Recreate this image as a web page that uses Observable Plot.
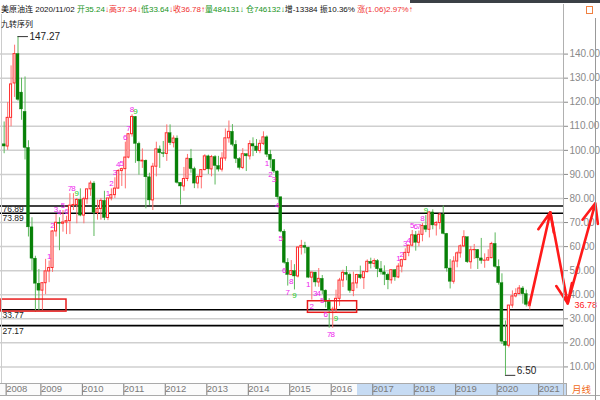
<!DOCTYPE html>
<html><head><meta charset="utf-8">
<script src="https://cdn.jsdelivr.net/npm/d3@7"></script>
<script src="https://cdn.jsdelivr.net/npm/@observablehq/plot@0.6"></script>
<style>
body{margin:0;background:#fff;}
#wrap{position:relative;width:600px;height:400px;overflow:hidden;background:#fff;}
#chart{position:absolute;left:0;top:0;}
#topbar{position:absolute;left:410px;top:0;width:190px;height:3px;background:#3b4046;}
#hdr{position:absolute;left:1px;top:4px;font-family:"Liberation Sans","Noto Sans CJK SC",sans-serif;font-size:8px;line-height:12px;white-space:nowrap;color:#111;}
#sub{position:absolute;left:1px;top:18px;font-family:"Noto Sans CJK SC",sans-serif;font-size:8px;line-height:12px;color:#111;}
.g{color:#16941a}.r{color:#f03030}
</style></head>
<body>
<div id="wrap">
<div id="chart"></div>
<div id="topbar"></div>
<div id="hdr"></div>
<div id="sub">九转序列</div>
</div>
<script>
// ---- data: monthly candles of 美原油连, Mar 2008 .. Nov 2020 ----
const firstMonth = "2008-03-01";
const lastMonthExclusive = "2020-12-01";
const open = [
 102.5,101.6,113.5,127.8,140.0,124.0,116.0,101.0,68.0,55.0,
 44.6,41.7,44.8,49.7,51.1,66.3,69.9,69.5,70.0,70.6,77.0,77.3,
 79.4,72.9,79.7,83.8,86.2,74.0,75.6,79.0,71.9,80.0,81.4,84.1,
 91.4,92.2,97.0,106.7,113.9,102.7,95.4,95.7,88.8,79.2,93.2,100.4,
 98.8,98.5,107.1,103.0,104.9,86.5,85.0,88.1,96.5,92.2,86.2,88.9,
 91.8,97.5,92.1,97.2,93.5,92.0,96.6,105.0,107.7,102.3,96.4,92.7,
 98.4,97.5,102.6,101.6,99.7,102.7,105.4,98.2,96.0,91.2,80.5,66.2,
 53.3,48.2,49.8,47.6,59.6,60.3,59.5,47.1,49.2,45.1,46.6,41.7,
 37.0,33.6,33.8,38.3,45.9,49.1,48.3,41.6,44.7,48.2,46.9,49.4,
 53.7,52.8,54.0,50.6,49.3,48.3,46.0,50.2,47.2,51.7,54.4,57.4,
 60.4,64.7,61.6,64.9,68.6,67.0,74.2,68.8,69.8,73.3,65.3,50.9,
 45.4,53.8,57.2,60.1,63.9,53.5,58.5,58.6,55.1,54.1,54.2,55.2,
 61.1,51.6,44.8,20.5,18.8,35.5,39.3,40.3,42.6,40.2,35.24
];
const high = [
 111.8,119.9,135.1,143.7,147.27,130.0,130.5,104.0,72.0,56.0,
 50.5,45.0,54.7,54.0,66.6,73.4,72.0,75.0,72.6,82.0,82.0,80.0,
 84.0,80.5,83.2,87.2,87.0,79.3,80.0,83.0,80.0,84.0,88.6,92.0,
 92.6,103.4,107.0,114.8,114.0,103.4,100.6,96.0,90.5,94.6,103.4,101.8,
 103.7,110.6,110.6,106.0,106.0,86.6,92.9,98.3,100.4,93.0,89.5,91.0,
 98.2,98.0,97.9,97.8,97.5,99.0,108.9,112.2,110.7,104.0,97.0,100.7,
 98.5,104.0,105.2,104.5,104.2,107.7,106.0,100.0,96.0,91.5,80.5,67.0,
 55.0,54.2,52.5,59.9,62.6,61.8,59.7,49.3,49.3,50.9,48.0,42.0,
 38.4,34.8,41.9,46.8,50.2,51.7,49.0,49.4,48.5,51.9,49.2,54.5,
 55.2,54.9,54.6,53.8,52.0,49.0,50.4,50.3,52.9,54.8,59.1,60.5,
 66.7,66.3,66.5,69.6,72.9,74.5,75.3,70.4,73.9,76.89,65.5,54.6,
 55.8,57.8,60.7,66.6,63.9,60.0,60.9,58.8,63.4,57.0,58.7,61.8,
 65.7,54.5,48.7,29.1,35.6,41.6,42.5,43.8,43.4,41.9,37.34
];
const low = [
 98.6,100.0,109.8,122.0,120.4,112.5,96.0,64.0,50.0,32.7,
 33.2,33.6,40.0,45.0,49.3,64.0,58.3,66.0,65.0,65.0,75.0,69.5,
 72.4,69.5,77.6,80.9,64.2,71.0,71.0,70.8,70.8,79.0,80.0,84.0,
 85.0,84.0,96.5,105.5,94.6,89.7,92.5,75.7,77.1,75.0,89.0,92.5,
 97.0,95.4,102.0,101.0,86.0,77.3,83.0,87.0,90.5,84.1,84.0,84.0,
 91.5,90.0,89.0,85.6,91.0,91.0,95.5,103.0,101.5,94.5,91.8,92.0,
 91.2,96.0,97.4,98.7,98.6,102.0,97.0,92.5,90.4,79.4,65.7,52.7,
 43.6,47.9,42.0,47.0,56.5,57.0,46.7,37.8,43.2,43.1,40.0,34.5,
 26.1,26.1,32.6,35.2,43.0,45.8,40.6,39.2,42.5,46.3,42.2,49.1,
 50.7,51.2,47.1,48.2,43.8,42.1,44.4,45.6,46.7,49.1,54.2,55.8,
 59.9,58.1,59.9,62.0,65.8,63.6,67.0,64.4,67.0,64.9,49.4,42.4,
 44.4,51.2,55.2,59.6,53.0,50.6,54.7,50.5,52.7,51.0,54.0,55.0,
 51.0,44.0,19.3,6.5,17.9,34.4,38.7,40.0,36.1,34.9,33.64
];
const close = [
 101.6,113.5,127.4,140.0,121.0,117.0,101.0,68.0,55.0,44.6,
 41.7,44.8,49.7,51.1,66.3,69.9,69.5,70.0,70.6,77.0,77.3,79.4,
 72.9,79.7,83.8,86.2,74.0,75.6,79.0,71.9,80.0,81.4,84.1,91.4,
 92.2,97.0,106.7,113.9,102.7,95.4,95.7,88.8,79.2,93.2,100.4,98.8,
 98.5,107.1,103.0,104.9,86.5,85.0,88.1,96.5,92.2,86.2,88.9,91.8,
 97.5,92.1,97.2,93.5,92.0,96.6,105.0,107.7,102.3,96.4,92.7,98.4,
 97.5,102.6,101.6,99.7,102.7,105.4,98.2,96.0,91.2,80.5,66.2,53.3,
 48.2,49.8,47.6,59.6,60.3,59.5,47.1,49.2,45.1,46.6,41.7,37.0,
 33.6,33.8,38.3,45.9,49.1,48.3,41.6,44.7,48.2,46.9,49.4,53.7,
 52.8,54.0,50.6,49.3,48.3,46.0,50.2,47.2,51.7,54.4,57.4,60.4,
 64.7,61.6,64.9,68.6,67.0,74.2,68.8,69.8,73.3,65.3,50.9,45.4,
 53.8,57.2,60.1,63.9,53.5,58.5,58.6,55.1,54.1,54.2,55.2,61.1,
 51.6,44.8,20.5,18.8,35.5,39.3,40.3,42.6,40.2,35.8,36.78
];
// axis ticks
const yearTicks = ["2008-03-01","2009-01-01","2010-01-01","2011-01-01","2012-01-01","2013-01-01","2014-01-01","2015-01-01","2016-01-01","2017-01-01","2018-01-01","2019-01-01","2020-01-01","2021-01-01"];
const priceTicks = [10,20,30,40,50,60,70,80,90,100,110,120,130,140];
// horizontal support/resistance levels
const levels = [76.89, 73.89, 33.77, 27.17];
// red boxes
const boxStart = ["2008-02-06","2015-06-28"];
const boxEnd   = ["2009-09-01","2016-09-03"];
const boxLow   = [33.0, 32.5];
const boxHigh  = [38.0, 37.3];
// hand-drawn forecast arrows
const arrowDates  = ["2020-11-01","2021-05-01","2021-10-01","2022-06-01"];
const arrowValues = [36.3, 74.3, 36.4, 78.0];
// extreme labels
const extremes = [{date:"2008-07-01", value:147.27, label:"147.27"},{date:"2020-04-01", value:6.50, label:"6.50"}];
const lastPrice = 36.78;

// ---- header ----
document.getElementById("hdr").innerHTML =
 '美原油连 2020/11/02 <span class="g">开35.24</span><span class="r">↓</span><span class="r">高37.34↓</span><span class="g">低33.64</span><span class="r">↓</span><span class="r">收36.78↑</span><span class="g">量484131↓</span> <span class="g">仓746132↓</span>增-13384 振10.36% <span class="r">涨(1.06)2.97%↑</span>';

// ---- table ----
const P = d => new Date(d + "T00:00:00Z");
const dates = d3.utcMonth.range(P(firstMonth), P(lastMonthExclusive));
const rows = dates.map((d, i) => ({date: d, open: open[i], high: high[i], low: low[i], close: close[i]}));
const up = rows.filter(d => d.close >= d.open);
const down = rows.filter(d => d.close < d.open);

// TD "九转" setup (close vs close 4 bars earlier), only completed 9-counts shown
const td = [];
{
  let s = [], b = [];
  for (let i = 4; i < close.length; i++) {
    if (close[i] > close[i - 4]) s.push(i); else s = [];
    if (close[i] < close[i - 4]) b.push(i); else b = [];
    if (s.length === 9) { s.forEach((k, j) => td.push({i: k, n: j + 1, dir: "sell"})); s = []; }
    if (b.length === 9) { b.forEach((k, j) => td.push({i: k, n: j + 1, dir: "buy"})); b = []; }
  }
}
const tdRow = t => ({date: dates[t.i], y: t.dir === "sell" ? high[t.i] : low[t.i], n: t.n});
const tdSell = td.filter(t => t.dir === "sell").map(tdRow);
const tdBuy = td.filter(t => t.dir === "buy").map(tdRow);

const boxes = boxStart.map((s, i) => ({x1: P(s), x2: P(boxEnd[i]), y1: boxLow[i], y2: boxHigh[i]}));
const arrows = arrowDates.slice(1).map((d, i) => ({x1: P(arrowDates[i]), y1: arrowValues[i], x2: P(d), y2: arrowValues[i + 1]}));
const ext = extremes.map(e => ({x1: P(e.date), x2: d3.utcMonth.offset(P(e.date), 3), y: e.value, label: e.label}));

const RED = "#ff2a2a", GREEN = "#078007";
const NARROW = '"Liberation Sans Narrow","Liberation Sans",Arial,sans-serif';
const half = 10; // days on each side of month start for body

const chart = Plot.plot({
  width: 600, height: 400,
  marginLeft: 0, marginRight: 37, marginTop: 5, marginBottom: 17,
  style: {background: "#fff", fontFamily: NARROW},
  x: {type: "utc", domain: [P("2009-01-01"), P("2021-01-01")], range: [38.4, 536.2], axis: null},
  y: {domain: [0, 140], range: [390.5, 53.6], axis: null},
  marks: [
    Plot.gridY(priceTicks, {stroke: "#cfcfcf", strokeOpacity: 1, strokeWidth: 1.5}),
    Plot.axisY(priceTicks, {anchor: "right", tickFormat: d => d.toFixed(2), tickSize: 4, tickPadding: 2, fontSize: 10, color: "#8a8a8a"}),
    Plot.axisX(yearTicks.map(P), {anchor: "bottom", tickFormat: d3.utcFormat("%Y"), tickSize: 12, tickPadding: -10, textAnchor: "start", dx: 2, fontSize: 9.5, color: "#7a7a7a"}),
    // levels
    Plot.ruleY(levels, {stroke: "#000", strokeWidth: 1.6}),
    Plot.text(levels.slice(0, 1), {y: d => d, text: d => d.toFixed(2), frameAnchor: "left", dx: 2, dy: 3.5, textAnchor: "start", fontSize: 8.5, fill: "#222"}),
    Plot.text(levels.slice(1), {y: d => d, text: d => d.toFixed(2), frameAnchor: "left", dx: 2, dy: 5.5, textAnchor: "start", fontSize: 8.5, fill: "#222"}),
    // candles: wicks
    Plot.ruleX(up, {x: "date", y1: "low", y2: "high", stroke: "#ff7070", strokeWidth: 1}),
    Plot.ruleX(down, {x: "date", y1: "low", y2: "high", stroke: "#5cb85c", strokeWidth: 1}),
    // bodies
    Plot.rect(up, {x1: d => d3.utcDay.offset(d.date, -half + 1), x2: d => d3.utcDay.offset(d.date, half - 1), y1: "open", y2: "close", fill: "#fff", stroke: RED, strokeWidth: 1}),
    Plot.rect(down, {x1: d => d3.utcDay.offset(d.date, -half - 3), x2: d => d3.utcDay.offset(d.date, half + 3), y1: "open", y2: "close", fill: GREEN, stroke: GREEN, strokeWidth: 0.4}),
    // red boxes
    Plot.rect(boxes, {x1: "x1", x2: "x2", y1: "y1", y2: "y2", fill: "none", stroke: "#e81c1c", strokeWidth: 1.5}),
    // TD sequence labels
    Plot.text(tdSell.filter(d => d.n < 9), {x: "date", y: "y", text: "n", dy: -5, fontSize: 8, fill: "#ee22ee"}),
    Plot.text(tdSell.filter(d => d.n === 9), {x: "date", y: "y", text: "n", dy: -5, fontSize: 8, fill: "#22cc22"}),
    Plot.text(tdBuy.filter(d => d.n < 9), {x: "date", y: "y", text: "n", dy: 6, fontSize: 8, fill: "#ee22ee"}),
    Plot.text(tdBuy.filter(d => d.n === 9), {x: "date", y: "y", text: "n", dy: 6, fontSize: 8, fill: "#22cc22"}),
    // extreme labels
    Plot.ruleY(ext, {x1: "x1", x2: "x2", y: "y", stroke: "#333", strokeWidth: 1}),
    Plot.text(ext.slice(0, 1), {x: "x2", y: "y", text: "label", dx: 1, textAnchor: "start", fontSize: 10, fill: "#222"}),
    Plot.text(ext.slice(1), {x: "x2", y: "y", text: "label", dx: 1, dy: -5, textAnchor: "start", fontSize: 10, fill: "#222"}),
    // last price label on axis
    Plot.text([lastPrice], {y: d => d, text: d => d.toFixed(2), frameAnchor: "right", dx: 11, dy: 2.5, textAnchor: "start", fontSize: 9, fill: "#ff2020", stroke: "#fff", strokeWidth: 3}),
    // forecast arrows
    Plot.arrow(arrows, {x1: "x1", y1: "y1", x2: "x2", y2: "y2", stroke: "#ff1a1a", strokeWidth: 2.6, headLength: 12, headAngle: 45})
  ]
});
document.getElementById("chart").appendChild(chart);

// ---- window chrome (non-data) ----
const svg = d3.select(chart);
const bg = svg.insert("g", ":first-child");
bg.append("rect").attr("x", 0).attr("y", 383).attr("width", 566).attr("height", 12).attr("fill", "#fbfbfb");
bg.append("rect").attr("x", 357).attr("y", 383).attr("width", 209).attr("height", 12).attr("fill", "#c6dbf3");
const fg = svg.append("g");
fg.append("line").attr("x1", 0).attr("x2", 566).attr("y1", 383.5).attr("y2", 383.5).attr("stroke", "#aaa");
fg.append("line").attr("x1", 0).attr("x2", 600).attr("y1", 395.5).attr("y2", 395.5).attr("stroke", "#aaa");
fg.append("line").attr("x1", 563.5).attr("x2", 563.5).attr("y1", 4).attr("y2", 395).attr("stroke", "#b0b0b0");
fg.append("line").attr("x1", 566.5).attr("x2", 566.5).attr("y1", 383).attr("y2", 395).attr("stroke", "#aaa");
fg.append("line").attr("x1", 1.5).attr("x2", 1.5).attr("y1", 14).attr("y2", 383).attr("stroke", "#ccc");
fg.append("line").attr("x1", 595.5).attr("x2", 595.5).attr("y1", 18).attr("y2", 400).attr("stroke", "#999");
fg.append("rect").attr("x", 586.5).attr("y", 6.5).attr("width", 6).attr("height", 7).attr("fill", "none").attr("stroke", "#f08040");
fg.append("text").attr("x", 572).attr("y", 393).attr("text-anchor", "start").attr("font-size", 9.5).attr("font-family", '"Noto Sans CJK SC",sans-serif').attr("fill", "#f06a20").text("月线");
</script>
</body></html>
